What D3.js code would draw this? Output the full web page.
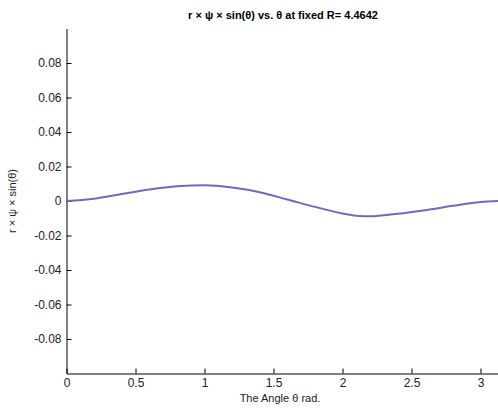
<!DOCTYPE html>
<html>
<head>
<meta charset="utf-8">
<script src="https://cdn.jsdelivr.net/npm/d3@7"></script>
<style>
  html, body { margin: 0; padding: 0; background: #fff; }
  svg { display: block; }
  .tick text { font-family: "Liberation Sans", Arial, sans-serif; font-size: 12px; fill: #222; }
</style>
</head>
<body>
<div id="chart"></div>
<script>
// values
const theta = [0, 0.2, 0.4, 0.6, 0.8, 1.0, 1.2, 1.4, 1.6, 1.8, 2.0, 2.1, 2.2, 2.4, 2.6, 2.8, 3.0, 3.1416]
const values = [0, 0.0013, 0.0040, 0.0066, 0.0085, 0.0091, 0.0078, 0.0051, 0.0009, -0.0034, -0.0072, -0.0085, -0.0089, -0.0074, -0.0053, -0.0028, -0.0006, 0]
const xTicks = [0, 0.5, 1, 1.5, 2, 2.5, 3]
const yTicks = [-0.08, -0.06, -0.04, -0.02, 0, 0.02, 0.04, 0.06, 0.08]

const width = 498
const height = 413
const margin = { top: 28.5, right: 0, bottom: 39.5, left: 66.5 }

const svg = d3.select('#chart').append('svg')
  .attr('width', width)
  .attr('height', height)

const x = d3.scaleLinear().domain([0, Math.PI]).range([margin.left, margin.left + 138 * Math.PI])
const y = d3.scaleLinear().domain([-0.1, 0.1]).range([height - margin.bottom, margin.top])

// plain hyphen for negatives, like the original
const fmtY = d => d === 0 ? '0' : d.toFixed(2)

// axes, MATLAB style ticks pointing inward
svg.append('g')
  .attr('transform', `translate(0,${height - margin.bottom})`)
  .call(d3.axisBottom(x).tickValues(xTicks).tickSizeInner(-5).tickSizeOuter(0).tickPadding(5).tickFormat(d => String(d)))
  .call(g => g.selectAll('line, path').attr('stroke', '#000'))

svg.append('g')
  .attr('transform', `translate(${margin.left},0)`)
  .call(d3.axisLeft(y).tickValues(yTicks).tickSizeInner(-5).tickSizeOuter(0).tickPadding(5).tickFormat(fmtY))
  .call(g => g.selectAll('line, path').attr('stroke', '#000'))

const line = d3.line()
  .x((d, i) => x(theta[i]))
  .y(d => y(d))
  .curve(d3.curveMonotoneX)

svg.append('path')
  .datum(values)
  .attr('fill', 'none')
  .attr('stroke', '#6b6bc4')
  .attr('stroke-width', 2)
  .attr('d', line)

// title and labels
svg.append('text')
  .attr('x', 283)
  .attr('y', 19)
  .attr('text-anchor', 'middle')
  .attr('font-family', 'Liberation Sans, Arial, sans-serif')
  .attr('font-size', 11)
  .attr('font-weight', 'bold')
  .text('r × ψ × sin(θ) vs. θ at fixed R= 4.4642')

svg.append('text')
  .attr('x', 280)
  .attr('y', 402)
  .attr('text-anchor', 'middle')
  .attr('font-family', 'Liberation Sans, Arial, sans-serif')
  .attr('font-size', 11)
  .attr('fill', '#222')
  .text('The Angle θ rad.')

svg.append('text')
  .attr('transform', `translate(16,${y(0)}) rotate(-90)`)
  .attr('text-anchor', 'middle')
  .attr('font-family', 'Liberation Sans, Arial, sans-serif')
  .attr('font-size', 11)
  .attr('fill', '#222')
  .text('r × ψ × sin(θ)')
</script>
</body>
</html>
